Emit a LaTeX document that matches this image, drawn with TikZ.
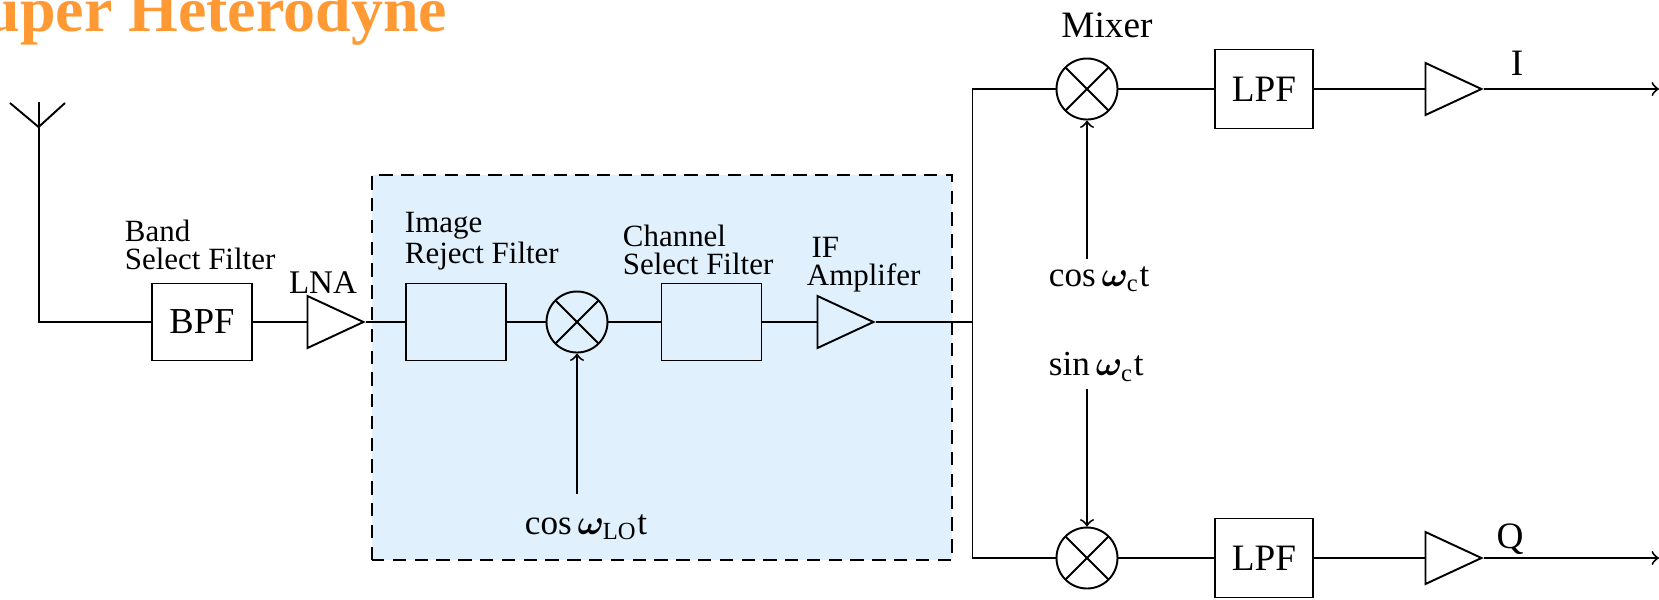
\documentclass[tikz,border=0pt]{standalone}
\usepackage{amsmath}
\usepackage{bm}
\usepackage{fontspec}
\setmainfont{Liberation Serif}
\usepackage{xcolor}
\usepackage{tikz}
\usetikzlibrary{shapes.geometric}
\definecolor{azzurro}{HTML}{E0F1FD}
\definecolor{arancio}{HTML}{FF9933}
\tikzset{
	every path/.style={line width=0.55pt},
	filtro/.style={draw, minimum width=1.0cm, minimum height=0.77cm, inner sep=0pt},
	mixer/.style={draw, circle, minimum size=0.61cm, inner sep=0pt,
		path picture={
			\draw (path picture bounding box.south west) -- (path picture bounding box.north east);
			\draw (path picture bounding box.north west) -- (path picture bounding box.south east);
		}},
	amp/.style={draw, isosceles triangle, isosceles triangle stretches, minimum width=0.52cm, minimum height=0.56cm, inner sep=0pt, anchor=apex},
	etichetta/.style={inner sep=0pt, align=left, anchor=west, font=\fontsize{8.8}{8}\selectfont},
	sigla/.style={inner sep=0pt, font=\fontsize{10.6}{12}\selectfont},
}
\begin{document}
\begin{tikzpicture}
	\useasboundingbox (0,0) rectangle (16.59,5.99);

	% Riquadro tratteggiato
	\draw[fill=azzurro, dash pattern=on 3.8pt off 2.4pt] (3.72,0.39) rectangle (9.52,4.24);

	% Titolo
	\node[anchor=base west, inner sep=0pt, text=arancio, font=\fontsize{18.2}{20}\selectfont\bfseries] (titolo) at (-0.52,5.68) {Super Heterodyne};

	% Antenna
	\coordinate (angolo) at (0.386,2.77);
	\coordinate (stelo) at (0.386,4.72);
	\coordinate (cima) at (0.386,4.97);
	\coordinate (bracciosx) at (0.10,4.96);
	\coordinate (bracciodx) at (0.65,4.96);

	% Catena centrale
	\node[filtro, font=\fontsize{10.4}{12}\selectfont] (bpf) at (2.02,2.77) {BPF};
	\node[amp] (lna) at (3.66,2.77) {};
	\node[filtro] (image) at (4.56,2.77) {};
	\node[mixer] (mixc) at (5.77,2.77) {};
	\node[filtro] (channel) at (7.115,2.77) {};
	\node[amp] (ifamp) at (8.76,2.77) {};
	\coordinate (nodo) at (9.725,2.77);
	\coordinate (lo) at (5.77,1.05);

	% Ramo I
	\node[mixer] (mixi) at (10.87,5.10) {};
	\node[filtro, minimum width=0.98cm, minimum height=0.79cm, sigla] (lpfi) at (12.64,5.10) {LPF};
	\node[amp] (ampi) at (14.84,5.10) {};
	\coordinate (alti) at (9.725,5.10);
	\coordinate (usciti) at (16.59,5.10);

	% Ramo Q
	\node[mixer] (mixq) at (10.87,0.41) {};
	\node[filtro, minimum width=0.98cm, minimum height=0.79cm, sigla] (lpfq) at (12.64,0.41) {LPF};
	\node[amp] (ampq) at (14.84,0.41) {};
	\coordinate (bassoq) at (9.725,0.41);
	\coordinate (uscitq) at (16.59,0.41);

	% Etichette
	\node[etichetta] (lband) at (1.24,3.54) {Band\\Select Filter};
	\node[sigla, font=\fontsize{9.4}{12}\selectfont] (llna) at (3.23,3.16) {LNA};
	\node[etichetta] (limage) at (4.04,3.58) {Image\\Reject Filter};
	\node[etichetta] (lchannel) at (6.22,3.49) {Channel\\Select Filter};
	\node[etichetta] (lif) at (8.06,3.34) {\hspace{1.3pt}IF\\Amplifer};
	\node[sigla] (lmixer) at (11.07,5.74) {Mixer};
	\node[sigla] (li) at (15.17,5.36) {I};
	\node[sigla] (lq) at (15.10,0.60) {Q};
	\node[etichetta, font=\fontsize{10}{12}\selectfont] (lcos) at (5.24,0.72) {cos\,$\bm{\omega}_{\mathrm{LO}}$t};
	\node[etichetta, font=\fontsize{10}{12}\selectfont] (lcosc) at (10.48,3.20) {cos\,$\bm{\omega}_{\mathrm{c}}$t};
	\node[etichetta, font=\fontsize{10}{12}\selectfont] (lsinc) at (10.48,2.32) {sin\,$\bm{\omega}_{\mathrm{c}}$t};
	\coordinate (partei) at (10.87,3.40);
	\coordinate (parteq) at (10.87,2.10);

	% Collegamenti
	\draw (bracciosx) -- (stelo) -- (bracciodx);
	\draw (cima) -- (angolo) -- (bpf.west);
	\draw (bpf.east) -- (lna.lower side);
	\draw (lna.apex) -- (image.west);
	\draw (image.east) -- (mixc.west);
	\draw (mixc.east) -- (channel.west);
	\draw (channel.east) -- (ifamp.lower side);
	\draw (ifamp.apex) -- (nodo);
	\draw (mixi.west) -- (alti) -- (bassoq) -- (mixq.west);
	\draw (mixi.east) -- (lpfi.west);
	\draw (lpfi.east) -- (ampi.lower side);
	\draw[->] (ampi.apex) -- (usciti);
	\draw (mixq.east) -- (lpfq.west);
	\draw (lpfq.east) -- (ampq.lower side);
	\draw[->] (ampq.apex) -- (uscitq);
	\draw[->] (lo) -- (mixc.south);
	\draw[->] (partei) -- (mixi.south);
	\draw[->] (parteq) -- (mixq.north);
\end{tikzpicture}
\end{document}
